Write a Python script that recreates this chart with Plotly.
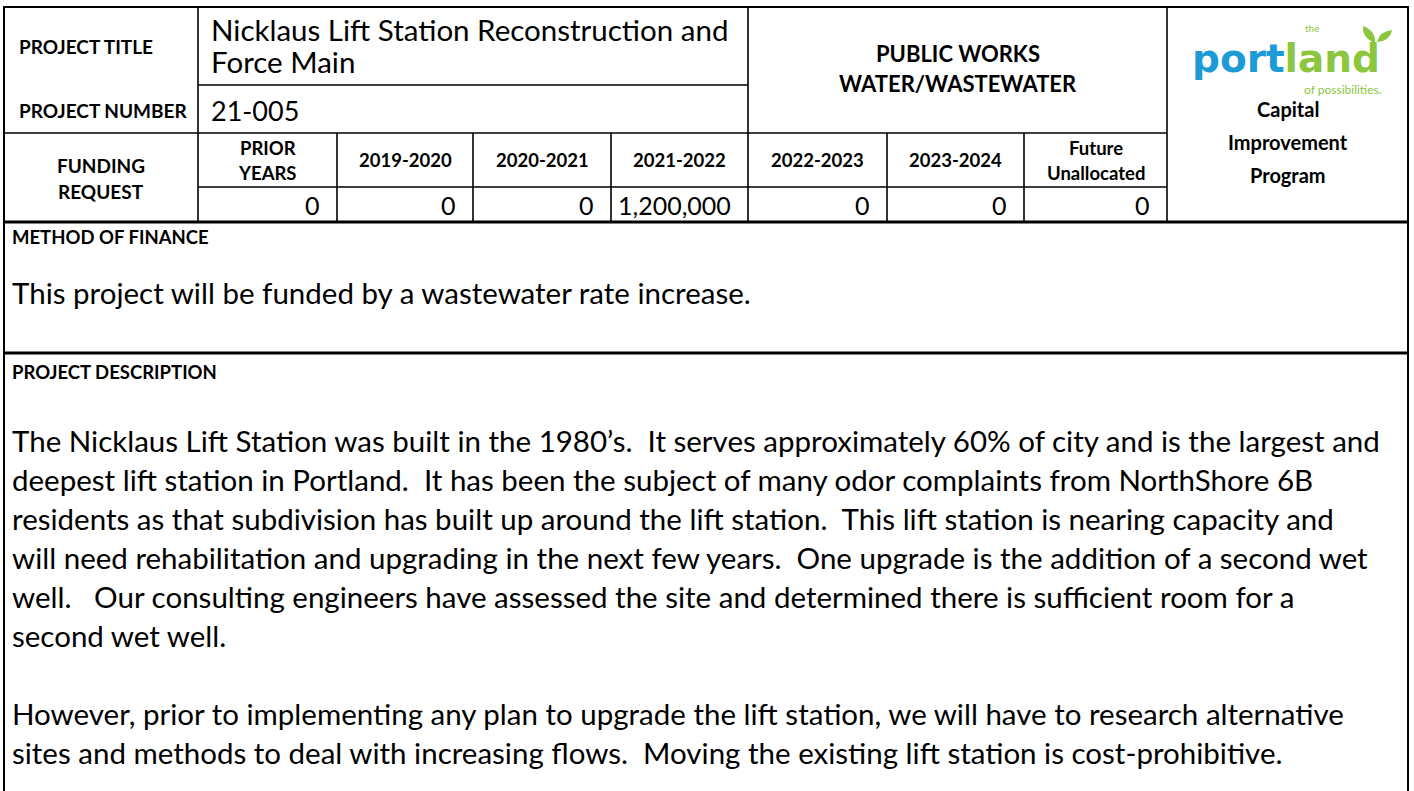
import plotly.graph_objects as go

# ---------------- data ----------------
label_title = "PROJECT TITLE"
label_number = "PROJECT NUMBER"
label_funding = ["FUNDING", "REQUEST"]
project_title_lines = ["Nicklaus Lift Station Reconstruction and", "Force Main"]
project_number = "21-005"
department_lines = ["PUBLIC WORKS", "WATER/WASTEWATER"]
program_lines = ["Capital", "Improvement", "Program"]
funding_periods = [["PRIOR", "YEARS"], ["2019-2020"], ["2020-2021"], ["2021-2022"],
                   ["2022-2023"], ["2023-2024"], ["Future", "Unallocated"]]
funding_amounts = [0, 0, 0, 1200000, 0, 0, 0]
finance_label = "METHOD OF FINANCE"
finance_text = "This project will be funded by a wastewater rate increase."
description_label = "PROJECT DESCRIPTION"
description_lines = [
    "The Nicklaus Lift Station was built in the 1980\u2019s.  It serves approximately 60% of city and is the largest and",
    "deepest lift station in Portland.  It has been the subject of many odor complaints from NorthShore 6B",
    "residents as that subdivision has built up around the lift station.  This lift station is nearing capacity and",
    "will need rehabilitation and upgrading in the next few years.  One upgrade is the addition of a second wet",
    "well.   Our consulting engineers have assessed the site and determined there is sufficient room for a",
    "second wet well.",
    "",
    "However, prior to implementing any plan to upgrade the lift station, we will have to research alternative",
    "sites and methods to deal with increasing flows.  Moving the existing lift station is cost-prohibitive.",
]
logo_words = ["port", "land"]
logo_small = ["the", "of possibilities."]

# ---------------- layout constants ----------------
W, H = 1414, 791
FONT = "Lato"
LOGO_FONT = "DejaVu Sans"
BLUE = "#1c9bd7"
GREEN = "#8cc63f"
XC = [4, 198, 337, 473, 611, 748, 887, 1024, 1167, 1408]
Y0, Y1, Y2, Y3, Y4, Y5 = 7, 85, 133, 187, 222, 353

shapes = []


def hline(y, x0, x1, w=1.6):
    shapes.append(dict(type="line", xref="x", yref="y", x0=x0, x1=x1, y0=y, y1=y,
                       line=dict(color="black", width=w)))


def vline(x, y0, y1, w=1.6):
    shapes.append(dict(type="line", xref="x", yref="y", x0=x, x1=x, y0=y0, y1=y1,
                       line=dict(color="black", width=w)))


# outer frame
hline(Y0, XC[0] - 1, XC[-1] + 1, 2.2)
vline(XC[0], Y0, H + 5, 2)
vline(XC[-1], Y0, H + 5, 2)
# header grid
hline(Y1, XC[1], XC[5])
hline(Y2, XC[0], XC[8])
hline(Y3, XC[1], XC[8])
vline(XC[1], Y0, Y4)
vline(XC[5], Y0, Y4)
vline(XC[8], Y0, Y4)
for i in (2, 3, 4, 6, 7):
    vline(XC[i], Y2, Y4)
# section separators
hline(Y4, XC[0], XC[-1], 3.2)
hline(Y5, XC[0], XC[-1], 3.2)

ann = []


def txt(x, y, s, size, bold=False, anchor="left", color="black", family=FONT):
    if bold:
        s = "<b>" + s + "</b>"
    ann.append(dict(x=x, y=y, xref="x", yref="y", text=s, showarrow=False,
                    xanchor=anchor, yanchor="middle",
                    font=dict(family=family, size=size, color=color)))


# left labels
txt(17, 46, label_title, 19, True)
txt(17, 110, label_number, 19, True)
txt((XC[0] + XC[1]) / 2, 165, label_funding[0], 19, True, "center")
txt((XC[0] + XC[1]) / 2, 191, label_funding[1], 19, True, "center")
# title / number
txt(209, 29, project_title_lines[0], 29.5)
txt(209, 61, project_title_lines[1], 29.5)
txt(209, 110, project_number, 27)
# department
dept_cx = (XC[5] + XC[8]) / 2
txt(dept_cx, 53, department_lines[0], 22, True, "center")
txt(dept_cx, 83, department_lines[1], 22, True, "center")
# funding headers and values
for i, lines in enumerate(funding_periods):
    cx = (XC[i + 1] + XC[i + 2]) / 2
    if len(lines) == 2:
        txt(cx, 148, lines[0], 18.5, True, "center")
        txt(cx, 173, lines[1], 18.5, True, "center")
    else:
        txt(cx, 160, lines[0], 18.5, True, "center")
    txt(XC[i + 2] - 15, 205, f"{funding_amounts[i]:,}", 25, False, "right")

# logo column
logo_cx = (XC[8] + XC[9]) / 2
ann.append(dict(x=1286, y=58, xref="x", yref="y", showarrow=False, xanchor="center", yanchor="middle",
                text=f"<b><span style='color:{BLUE}'>{logo_words[0]}</span>"
                     f"<span style='color:{GREEN}'>{logo_words[1]}</span></b>",
                font=dict(family=LOGO_FONT, size=39)))
txt(1312, 28, logo_small[0], 10, False, "center", GREEN)
txt(1384, 89, logo_small[1], 12, False, "right", GREEN)
# leaves on the "d"
shapes.append(dict(type="path", xref="x", yref="y",
                   path="M 1375 43 Q 1362 38 1363 26 Q 1376 31 1375 43 Z",
                   fillcolor=GREEN, line=dict(width=0)))
shapes.append(dict(type="path", xref="x", yref="y",
                   path="M 1377 42 Q 1380 31 1392 30 Q 1390 41 1377 42 Z",
                   fillcolor=GREEN, line=dict(width=0)))
for j, s in enumerate(program_lines):
    txt(logo_cx, 109 + 33 * j, s, 20, True, "center")

# method of finance
txt(10, 237, finance_label, 18.5, True)
txt(10, 292, finance_text, 29.5)
# description
txt(10, 372, description_label, 18.5, True)
for i, s in enumerate(description_lines):
    if s:
        txt(10, 440 + 39 * i, s, 29.5)

fig = go.Figure()
fig.add_trace(go.Scatter(x=[0, W], y=[0, H], mode="markers", marker=dict(opacity=0),
                         hoverinfo="skip", showlegend=False))
fig.update_layout(
    width=W, height=H, margin=dict(l=0, r=0, t=0, b=0),
    paper_bgcolor="white", plot_bgcolor="white",
    xaxis=dict(range=[0, W], visible=False, fixedrange=True),
    yaxis=dict(range=[H, 0], visible=False, fixedrange=True),
    shapes=shapes, annotations=ann, showlegend=False,
)
fig.write_html("out.html", config={"displayModeBar": False},
               post_script="document.body.style.margin='0px';document.body.style.overflow='hidden';")
